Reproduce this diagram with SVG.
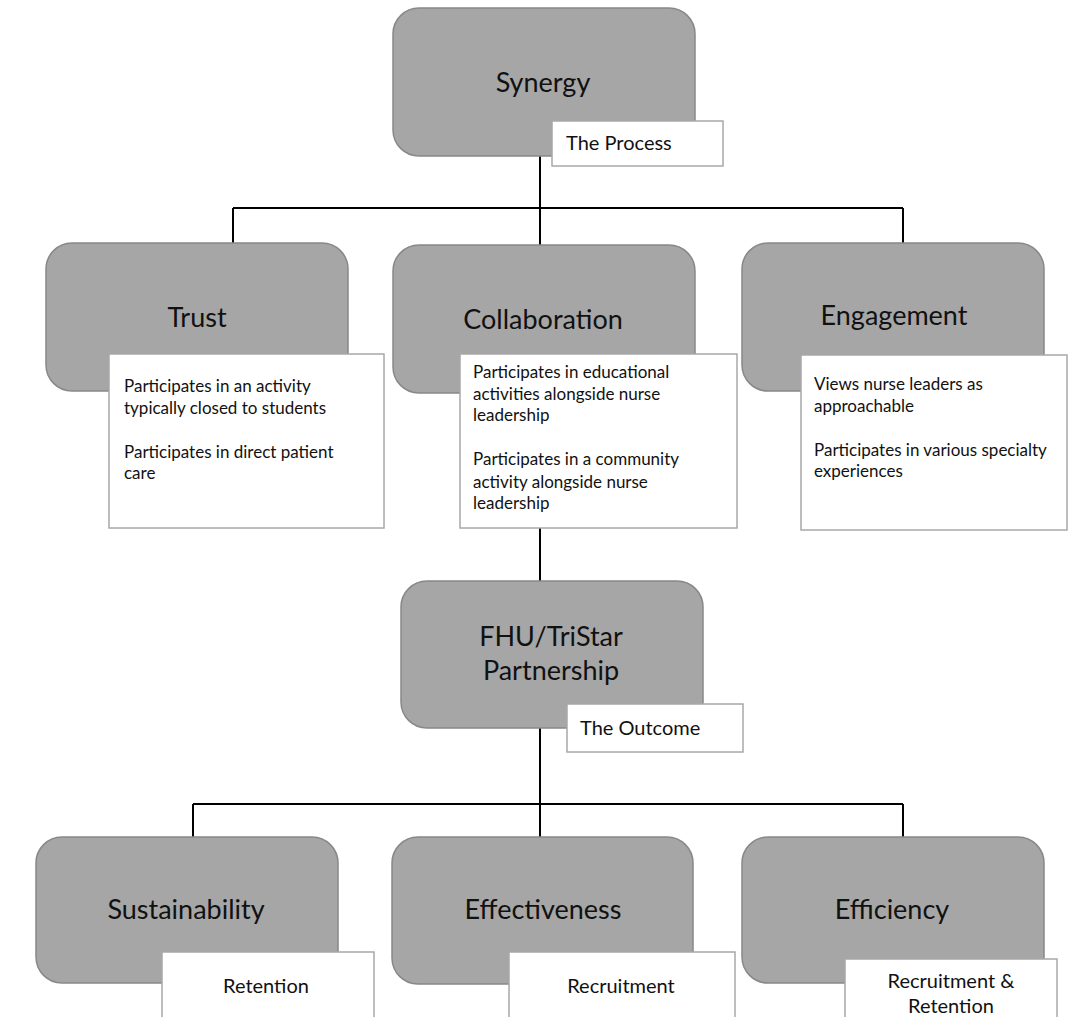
<svg xmlns="http://www.w3.org/2000/svg" width="1068" height="1017" viewBox="0 0 1068 1017">
<style>
.box{fill:#a6a6a6;stroke:#888888;stroke-width:1.5}
.note{fill:#ffffff;stroke:#a8a8a8;stroke-width:1.5}
.title{font-family:Lato,"Liberation Sans",sans-serif;font-size:27px;fill:#111111;text-anchor:middle}
.lab{font-family:Lato,"Liberation Sans",sans-serif;font-size:20px;fill:#111111}
.txt{font-family:Lato,"Liberation Sans",sans-serif;font-size:17px;fill:#111111}
.conn{stroke:#000000;stroke-width:2;fill:none}
</style>
<rect width="1068" height="1017" fill="#ffffff"/>
<g id="connectors">
<path class="conn" d="M540 156V245M233 208H903M233 208V243M903 208V243"/>
<path class="conn" d="M540 528V581"/>
<path class="conn" d="M540 728V837M193 804H903M193 804V837M903 804V837"/>
</g>
<g id="synergy">
<rect class="box" x="393" y="8" width="302" height="148" rx="26"/>
<text class="title" x="543" y="92">Synergy</text>
<rect class="note" x="552" y="121" width="171" height="45"/>
<text class="lab" x="566" y="150">The Process</text>
</g>
<g id="trust">
<rect class="box" x="46" y="243" width="302" height="148" rx="26"/>
<text class="title" x="197" y="327">Trust</text>
<rect class="note" x="109" y="354" width="275" height="174"/>
<text class="txt" x="124" y="392">Participates in an activity</text>
<text class="txt" x="124" y="414">typically closed to students</text>
<text class="txt" x="124" y="458">Participates in direct  patient</text>
<text class="txt" x="124" y="479">care</text>
</g>
<g id="collaboration">
<rect class="box" x="393" y="245" width="302" height="148" rx="26"/>
<text class="title" x="543" y="329">Collaboration</text>
<rect class="note" x="460" y="354" width="277" height="174"/>
<text class="txt" x="473" y="378">Participates in educational</text>
<text class="txt" x="473" y="400">activities alongside nurse</text>
<text class="txt" x="473" y="421">leadership</text>
<text class="txt" x="473" y="465">Participates in a community</text>
<text class="txt" x="473" y="488">activity alongside nurse</text>
<text class="txt" x="473" y="509">leadership</text>
</g>
<g id="engagement">
<rect class="box" x="742" y="243" width="302" height="148" rx="26"/>
<text class="title" x="894" y="325">Engagement</text>
<rect class="note" x="801" y="355" width="266" height="175"/>
<text class="txt" x="814" y="390">Views nurse leaders as</text>
<text class="txt" x="814" y="412">approachable</text>
<text class="txt" x="814" y="456">Participates in various specialty</text>
<text class="txt" x="814" y="477">experiences</text>
</g>
<g id="partnership">
<rect class="box" x="401" y="581" width="302" height="147" rx="26"/>
<text class="title" x="551" y="646">FHU/TriStar</text>
<text class="title" x="551" y="680">Partnership</text>
<rect class="note" x="567" y="704" width="176" height="48"/>
<text class="lab" x="580" y="735">The Outcome</text>
</g>
<g id="sustainability">
<rect class="box" x="36" y="837" width="302" height="146" rx="26"/>
<text class="title" x="186" y="919">Sustainability</text>
<rect class="note" x="162" y="952" width="212" height="70"/>
<text class="lab" x="266" y="993" text-anchor="middle">Retention</text>
</g>
<g id="effectiveness">
<rect class="box" x="392" y="837" width="301" height="147" rx="26"/>
<text class="title" x="543" y="919">Effectiveness</text>
<rect class="note" x="509" y="952" width="226" height="70"/>
<text class="lab" x="621" y="993" text-anchor="middle">Recruitment</text>
</g>
<g id="efficiency">
<rect class="box" x="742" y="837" width="302" height="146" rx="26"/>
<text class="title" x="892" y="919">Efficiency</text>
<rect class="note" x="845" y="959" width="212" height="63"/>
<text class="lab" x="951" y="988" text-anchor="middle">Recruitment &amp;</text>
<text class="lab" x="951" y="1013" text-anchor="middle">Retention</text>
</g>
</svg>
